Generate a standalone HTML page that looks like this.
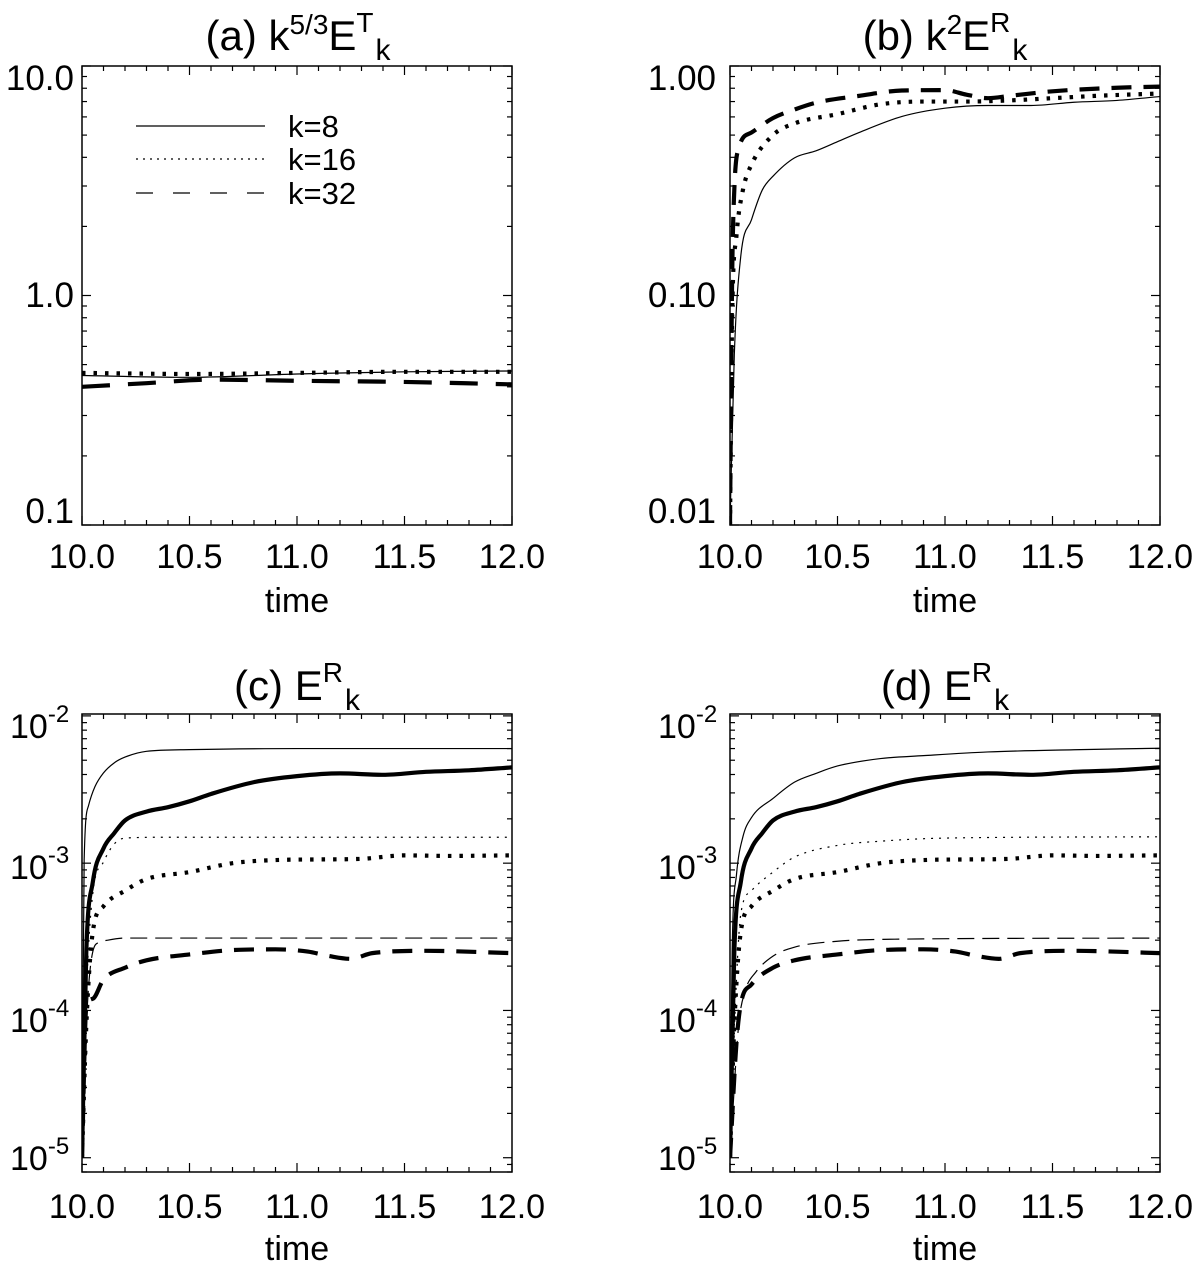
<!DOCTYPE html>
<html><head><meta charset="utf-8"><style>
html,body{margin:0;padding:0;background:#fff}
svg{display:block}
text{font-family:"Liberation Sans",Arial,sans-serif;fill:#000}
</style></head><body>
<svg id="fig" width="1200" height="1266" viewBox="0 0 1200 1266" xmlns="http://www.w3.org/2000/svg"></svg>
<script>
// ---------- data ----------
const tA8=[10,10.5,11,11.5,12];            const vA8=[0.448,0.44,0.455,0.465,0.469];
const tA16=[10,10.5,11,11.5,12];           const vA16=[0.46,0.455,0.46,0.465,0.465];
const tA32=[10,10.3,10.6,11,11.5,12];      const vA32=[0.40,0.415,0.43,0.425,0.42,0.41];

const tB8=[10,10.02,10.05,10.1,10.15,10.2,10.3,10.4,10.5,10.6,10.8,11,11.2,11.4,11.6,11.8,12];
const vB8=[0.01,0.055,0.148,0.214,0.288,0.331,0.398,0.427,0.468,0.513,0.603,0.655,0.673,0.673,0.695,0.708,0.736];
const tB16=[10,10.01,10.03,10.06,10.1,10.2,10.3,10.5,10.7,10.9,11.1,11.3,11.5,11.7,12];
const vB16=[0.01,0.081,0.182,0.288,0.372,0.5,0.562,0.617,0.681,0.7,0.7,0.708,0.724,0.741,0.759];
const tB32=[10,10.01,10.02,10.04,10.1,10.2,10.3,10.4,10.6,10.8,11.0,11.1,11.2,11.3,11.5,11.8,12];
const vB32=[0.01,0.12,0.288,0.437,0.513,0.593,0.646,0.692,0.741,0.782,0.785,0.75,0.724,0.741,0.776,0.804,0.813];

const tC8thin=[10,10.01,10.03,10.06,10.1,10.15,10.2,10.3,10.5,11,12];
const vC8thin=[1e-5,1.05e-3,2.45e-3,3.3e-3,4.1e-3,4.8e-3,5.25e-3,5.75e-3,5.9e-3,6.0e-3,6.0e-3];
const t8thick=[10,10.02,10.05,10.1,10.15,10.2,10.3,10.4,10.5,10.6,10.8,11,11.2,11.4,11.6,11.8,12];
const v8thick=[1e-5,2.5e-4,7.4e-4,1.26e-3,1.6e-3,1.95e-3,2.24e-3,2.4e-3,2.63e-3,2.95e-3,3.55e-3,3.9e-3,4.07e-3,3.98e-3,4.17e-3,4.27e-3,4.47e-3];
const tC16thin=[10,10.02,10.05,10.1,10.15,10.2,10.4,12];
const vC16thin=[1e-5,1.26e-4,6.2e-4,1.02e-3,1.35e-3,1.48e-3,1.5e-3,1.5e-3];
const t16thick=[10,10.02,10.05,10.1,10.2,10.3,10.5,10.7,10.9,11.1,11.3,11.5,11.7,12];
const v16thick=[1e-5,7.9e-5,3.4e-4,5.1e-4,6.5e-4,7.8e-4,8.7e-4,1.0e-3,1.05e-3,1.06e-3,1.07e-3,1.13e-3,1.12e-3,1.13e-3];
const tC32thin=[10,10.02,10.05,10.08,10.12,10.2,12];
const vC32thin=[1e-5,7.9e-5,2.5e-4,2.9e-4,3.0e-4,3.1e-4,3.1e-4];
const tC32thick=[10,10.02,10.05,10.1,10.2,10.3,10.5,10.7,10.9,11.05,11.15,11.25,11.35,11.6,12];
const vC32thick=[1e-5,1.05e-4,1.2e-4,1.62e-4,1.95e-4,2.19e-4,2.4e-4,2.57e-4,2.6e-4,2.51e-4,2.34e-4,2.24e-4,2.45e-4,2.54e-4,2.45e-4];

const tD8thin=[10,10.01,10.03,10.06,10.1,10.2,10.3,10.4,10.5,10.7,10.9,11.2,11.6,12];
const vD8thin=[1e-5,2.5e-4,8.3e-4,1.51e-3,2.04e-3,2.75e-3,3.55e-3,4.07e-3,4.57e-3,5.13e-3,5.37e-3,5.69e-3,5.89e-3,6.03e-3];
const tD16thin=[10,10.03,10.05,10.1,10.2,10.3,10.5,10.7,11,12];
const vD16thin=[1e-5,1.6e-4,4.5e-4,6.5e-4,8.7e-4,1.1e-3,1.32e-3,1.41e-3,1.48e-3,1.51e-3];
const tD32thin=[10,10.04,10.07,10.12,10.2,10.3,10.5,10.8,12];
const vD32thin=[1e-5,7.9e-5,1.35e-4,1.82e-4,2.34e-4,2.69e-4,2.95e-4,3.05e-4,3.1e-4];
const tD32thick=[10,10.03,10.05,10.1,10.2,10.3,10.5,10.7,10.9,11.05,11.15,11.25,11.35,11.6,12];
const vD32thick=[1e-5,6e-5,1.1e-4,1.5e-4,1.95e-4,2.19e-4,2.4e-4,2.57e-4,2.6e-4,2.51e-4,2.34e-4,2.24e-4,2.45e-4,2.54e-4,2.45e-4];

const xTickVals=[10.0,10.5,11.0,11.5,12.0];
const xTickLabels=["10.0","10.5","11.0","11.5","12.0"];
const aTickLabels=["0.1","1.0","10.0"];
const bTickLabels=["0.01","0.10","1.00"];
const cTickExps=["-5","-4","-3","-2"];

// ---------- helpers ----------
const NS="http://www.w3.org/2000/svg";
const svg=document.getElementById('fig');
function mk(tag,attrs,parent){const e=document.createElementNS(NS,tag);for(const k in attrs)e.setAttribute(k,attrs[k]);(parent||svg).appendChild(e);return e;}

function monoPath(pts){
  const n=pts.length;
  if(n<2)return '';
  const dx=[],m=[];
  for(let i=0;i<n-1;i++){dx.push(pts[i+1][0]-pts[i][0]);m.push((pts[i+1][1]-pts[i][1])/dx[i]);}
  const tg=new Array(n);
  tg[0]=m[0];tg[n-1]=m[n-2];
  for(let i=1;i<n-1;i++){tg[i]=(m[i-1]*m[i]<=0)?0:(m[i-1]+m[i])/2;}
  for(let i=0;i<n-1;i++){
    if(m[i]===0){tg[i]=0;tg[i+1]=0;continue;}
    const a=tg[i]/m[i],b=tg[i+1]/m[i],s=a*a+b*b;
    if(s>9){const t=3/Math.sqrt(s);tg[i]=t*a*m[i];tg[i+1]=t*b*m[i];}
  }
  let d='M'+pts[0][0].toFixed(2)+','+pts[0][1].toFixed(2);
  for(let i=0;i<n-1;i++){
    const h=dx[i]/3;
    d+=' C'+(pts[i][0]+h).toFixed(2)+','+(pts[i][1]+tg[i]*h).toFixed(2)+' '+(pts[i+1][0]-h).toFixed(2)+','+(pts[i+1][1]-tg[i+1]*h).toFixed(2)+' '+pts[i+1][0].toFixed(2)+','+pts[i+1][1].toFixed(2);
  }
  return d;
}

function panel(p){
  const g=mk('g',{});
  
  
  const X=t=>p.x0+(t-10)/2*(p.x1-p.x0);
  const L0=Math.log10(p.ymin),L1=Math.log10(p.ymax);
  const Y=v=>p.y1-(Math.log10(v)-L0)/(L1-L0)*(p.y1-p.y0);
  const cid='clip-'+p.name;
  const cp=mk('clipPath',{id:cid},g);mk('rect',{x:p.x0,y:p.y0,width:p.x1-p.x0,height:p.y1-p.y0},cp);
  const tk=mk('g',{stroke:'#000','stroke-width':1.2},g);
  
  
  for(let i=0;i<=20;i++){const t=10+i*0.1;const x=X(t);const len=(i%5===0)?9:5;
    mk('line',{x1:x,x2:x,y1:p.y1,y2:p.y1-len},tk);mk('line',{x1:x,x2:x,y1:p.y0,y2:p.y0+len},tk);}
  for(let d=Math.floor(L0);d<Math.ceil(L1)+1;d++){for(let m=1;m<=9;m++){const v=m*Math.pow(10,d);
    if(v<p.ymin*0.999||v>p.ymax*1.001)continue;const y=Y(v);const len=m===1?9:5;
    mk('line',{x1:p.x0,x2:p.x0+len,y1:y,y2:y},tk);mk('line',{x1:p.x1,x2:p.x1-len,y1:y,y2:y},tk);}}
  const sg=mk('g',{'clip-path':'url(#'+cid+')',fill:'none',stroke:'#000'},g);
  p.series.forEach(s=>{
    const pts=s.t.map((t,i)=>[X(t),Y(s.v[i])]);
    const a={d:monoPath(pts),'stroke-width':s.w};if(s.dash)a['stroke-dasharray']=s.dash;
    const path=mk('path',a,sg);
    
    
  });
  const fr=mk('rect',{x:p.x0,y:p.y0,width:p.x1-p.x0,height:p.y1-p.y0,fill:'none',stroke:'#000','stroke-width':1.5},g);
  
  
  xTickVals.forEach((t,i)=>{const tx=mk('text',{x:X(t),y:p.xlabY,'font-size':34,'text-anchor':'middle'},g);tx.textContent=xTickLabels[i];
    
    });
  const xt=mk('text',{x:(p.x0+p.x1)/2,y:p.xtitleY,'font-size':34,'text-anchor':'middle'},g);xt.textContent='time';
  
  
  return {g,X,Y};
}

const tw=1.2, th=4.2;
const A=panel({name:'panel-a',x0:82,x1:512,y0:66,y1:525,ymin:0.1,ymax:10,xlabY:568,xtitleY:612,series:[
  {name:'k8-line',t:tA8,v:vA8,w:tw},
  {name:'k16-line',t:tA16,v:vA16,w:th,dash:'3.5 8'},
  {name:'k32-line',t:tA32,v:vA32,w:th,dash:'28 18'}]});
const B=panel({name:'panel-b',x0:730,x1:1160,y0:66,y1:525,ymin:0.01,ymax:1,xlabY:568,xtitleY:612,series:[
  {name:'k8-line',t:tB8,v:vB8,w:tw},
  {name:'k16-line',t:tB16,v:vB16,w:th,dash:'3.5 8'},
  {name:'k32-line',t:tB32,v:vB32,w:th,dash:'20 12'}]});
const C=panel({name:'panel-c',x0:82,x1:512,y0:714,y1:1172,ymin:8e-6,ymax:1.03e-2,xlabY:1218,xtitleY:1260,series:[
  {name:'k8-thin-line',t:tC8thin,v:vC8thin,w:tw},
  {name:'k8-thick-line',t:t8thick,v:v8thick,w:th},
  {name:'k16-thin-line',t:tC16thin,v:vC16thin,w:tw,dash:'2 6'},
  {name:'k16-thick-line',t:t16thick,v:v16thick,w:th,dash:'3.5 8'},
  {name:'k32-thin-line',t:tC32thin,v:vC32thin,w:tw,dash:'17 8'},
  {name:'k32-thick-line',t:tC32thick,v:vC32thick,w:th,dash:'20 12'}]});
const D=panel({name:'panel-d',x0:730,x1:1160,y0:714,y1:1172,ymin:8e-6,ymax:1.03e-2,xlabY:1218,xtitleY:1260,series:[
  {name:'k8-thin-line',t:tD8thin,v:vD8thin,w:tw},
  {name:'k8-thick-line',t:t8thick,v:v8thick,w:th},
  {name:'k16-thin-line',t:tD16thin,v:vD16thin,w:tw,dash:'2 6'},
  {name:'k16-thick-line',t:t16thick,v:v16thick,w:th,dash:'3.5 8'},
  {name:'k32-thin-line',t:tD32thin,v:vD32thin,w:tw,dash:'17 8'},
  {name:'k32-thick-line',t:tD32thick,v:vD32thick,w:th,dash:'20 12'}]});

function ylab(g,x,y,s){const t=mk('text',{x:x,y:y,'font-size':35,'text-anchor':'end'},g);t.textContent=s;
  
  }
ylab(A.g,74,523,aTickLabels[0]);ylab(A.g,74,307,aTickLabels[1]);ylab(A.g,74,90,aTickLabels[2]);
ylab(B.g,716,523,bTickLabels[0]);ylab(B.g,716,307,bTickLabels[1]);ylab(B.g,716,90,bTickLabels[2]);
function plab(g,x,y,e){const t=mk('text',{x:x,y:y,'font-size':34},g);
  const a=mk('tspan',{},t);a.textContent='10';const b=mk('tspan',{dy:-16,'font-size':24},t);b.textContent=e;
  
  }
const cY=[1170,1032,879,738];
cTickExps.forEach((e,i)=>{plab(C.g,10,cY[i],e);plab(D.g,658,cY[i],e);});

function title(g,cx,y,parts){const t=mk('text',{x:cx,y:y,'font-size':42,'text-anchor':'middle'},g);
  parts.forEach(p=>{const s=mk('tspan',p.a||{},t);s.textContent=p.s;});
  
  }
title(A.g,298,50,[{s:'(a) k'},{s:'5/3',a:{dy:-16,'font-size':28}},{s:'E',a:{dy:16}},{s:'T',a:{dy:-18,'font-size':28}},{s:'k',a:{dy:28,dx:2,'font-size':30}}]);
title(B.g,945,50,[{s:'(b) k'},{s:'2',a:{dy:-16,'font-size':28}},{s:'E',a:{dy:16}},{s:'R',a:{dy:-18,'font-size':28}},{s:'k',a:{dy:28,dx:2,'font-size':30}}]);
title(C.g,297,700,[{s:'(c) E'},{s:'R',a:{dy:-18,'font-size':28}},{s:'k',a:{dy:28,dx:2,'font-size':30}}]);
title(D.g,945,700,[{s:'(d) E'},{s:'R',a:{dy:-18,'font-size':28}},{s:'k',a:{dy:28,dx:2,'font-size':30}}]);

const lg=mk('g',{},A.g);


const legLabels=["k=8","k=16","k=32"];
const legDash=[null,'2 5','17 20'];
const legY=[126,159,193];
legLabels.forEach((s,i)=>{
  const a={x1:136,x2:265,y1:legY[i],y2:legY[i],stroke:'#000','stroke-width':1.2};if(legDash[i])a['stroke-dasharray']=legDash[i];
  const ln=mk('line',a,lg);
  
  
  const t=mk('text',{x:288,y:legY[i]+11,'font-size':31},lg);t.textContent=s;
  
  
});
</script>
</body></html>
